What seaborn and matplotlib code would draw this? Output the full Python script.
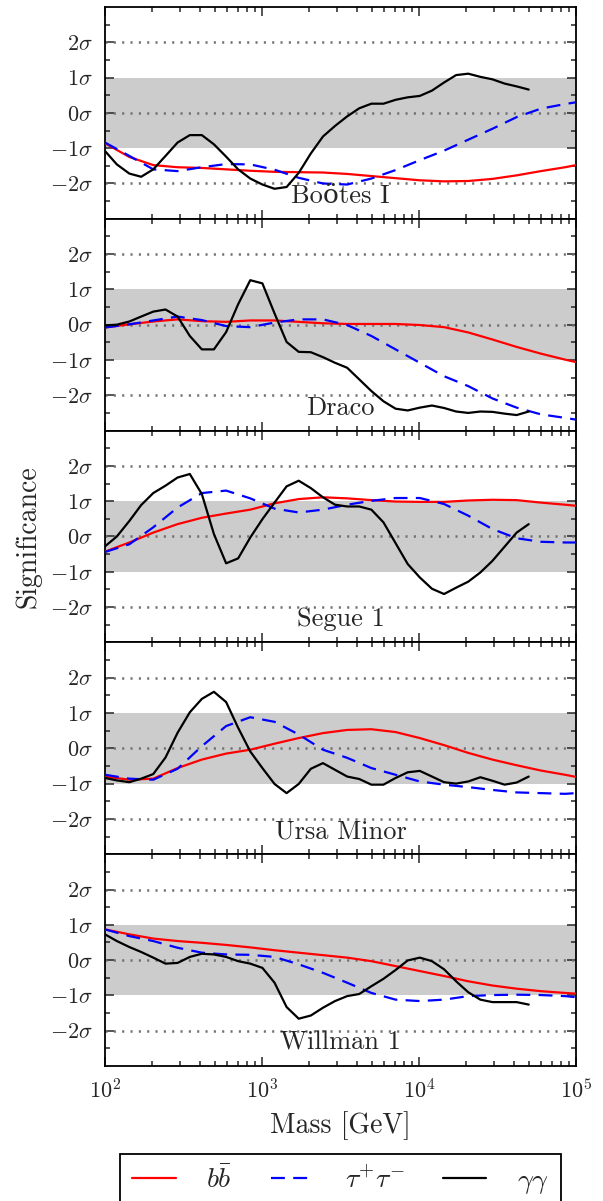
import matplotlib
matplotlib.use('Agg')
import pandas as pd
import matplotlib.pyplot as plt
import seaborn as sns
from matplotlib.ticker import FixedLocator, LogLocator, NullFormatter

# mass points of the gamma-gamma scan (GeV)
mass_gg = [100, 119, 143, 170, 203, 243, 290, 347, 414, 494, 591, 705, 842,
           1006, 1202, 1435, 1714, 2047, 2445, 2920, 3487, 4165, 4974, 5941,
           7096, 8475, 10120, 12090, 14440, 17240, 20590, 24590, 29370,
           35080, 41880, 50000]
# mass points used for the smooth bb / tau tau curves (GeV)
mass_smooth = [100, 143, 203, 290, 414, 591, 842, 1202, 1714, 2445, 3487,
               4974, 7096, 10120, 14440, 20590, 29370, 41880, 59740, 85220,
               100000]

dwarfs = ['Boötes I', 'Draco', 'Segue 1', 'Ursa Minor', 'Willman 1']

# Bootes I
bb_boo = [-0.86, -1.25, -1.48, -1.54, -1.56, -1.60, -1.64, -1.67, -1.68, -1.69, -1.73,
          -1.79, -1.85, -1.91, -1.94, -1.93, -1.87, -1.77, -1.65, -1.54, -1.48]
tt_boo = [-0.84, -1.22, -1.60, -1.65, -1.54, -1.45, -1.46, -1.61, -1.84, -2.00, -2.03,
          -1.86, -1.62, -1.34, -1.07, -0.76, -0.45, -0.12, 0.12, 0.25, 0.30]
gg_boo = [-1.08, -1.46, -1.72, -1.81, -1.60, -1.22, -0.84, -0.63, -0.63, -0.89, -1.24,
          -1.60, -1.86, -2.03, -2.15, -2.10, -1.70, -1.15, -0.67, -0.37, -0.10, 0.13,
          0.26, 0.26, 0.37, 0.44, 0.48, 0.63, 0.86, 1.07, 1.11, 1.02, 0.95, 0.83, 0.75, 0.66]

# Draco
bb_dra = [-0.08, 0.01, 0.09, 0.15, 0.10, 0.08, 0.12, 0.12, 0.08, 0.04, 0.02,
          0.02, 0.02, -0.01, -0.07, -0.22, -0.42, -0.63, -0.82, -0.99, -1.06]
tt_dra = [-0.08, 0.01, 0.12, 0.23, 0.13, -0.04, -0.07, 0.06, 0.15, 0.15, -0.01,
          -0.32, -0.70, -1.08, -1.46, -1.74, -2.09, -2.35, -2.54, -2.64, -2.69]
gg_dra = [-0.02, 0.00, 0.09, 0.23, 0.37, 0.43, 0.23, -0.32, -0.70, -0.70, -0.21,
          0.58, 1.26, 1.17, 0.32, -0.49, -0.77, -0.78, -0.92, -1.08, -1.22, -1.55,
          -1.88, -2.17, -2.38, -2.43, -2.35, -2.29, -2.36, -2.46, -2.50, -2.46, -2.47,
          -2.52, -2.56, -2.46]

# Segue 1
bb_seg = [-0.43, -0.17, 0.11, 0.35, 0.53, 0.65, 0.76, 0.94, 1.06, 1.11, 1.08,
          1.03, 0.99, 0.98, 0.98, 1.02, 1.04, 1.03, 0.96, 0.90, 0.87]
tt_seg = [-0.44, -0.22, 0.26, 0.82, 1.23, 1.30, 1.08, 0.79, 0.68, 0.76, 0.90,
          1.01, 1.09, 1.09, 0.92, 0.59, 0.21, -0.05, -0.15, -0.17, -0.17]
gg_seg = [-0.28, 0.00, 0.44, 0.89, 1.23, 1.44, 1.67, 1.77, 1.20, 0.07, -0.76,
          -0.62, -0.03, 0.49, 0.96, 1.42, 1.58, 1.37, 1.11, 0.90, 0.85, 0.85, 0.76,
          0.40, -0.19, -0.78, -1.16, -1.48, -1.63, -1.45, -1.28, -1.02, -0.69, -0.29,
          0.11, 0.35]

# Ursa Minor
bb_umi = [-0.80, -0.89, -0.86, -0.56, -0.32, -0.15, -0.04, 0.13, 0.29, 0.43, 0.52,
          0.54, 0.46, 0.29, 0.09, -0.13, -0.32, -0.48, -0.63, -0.75, -0.81]
tt_umi = [-0.75, -0.86, -0.89, -0.58, 0.06, 0.63, 0.88, 0.75, 0.39, -0.04, -0.27,
          -0.56, -0.75, -0.94, -1.03, -1.10, -1.18, -1.25, -1.27, -1.29, -1.27]
gg_umi = [-0.84, -0.91, -0.96, -0.86, -0.73, -0.26, 0.44, 1.02, 1.40, 1.60, 1.31,
          0.58, -0.09, -0.56, -1.01, -1.27, -1.01, -0.58, -0.42, -0.61, -0.80, -0.87,
          -1.03, -1.03, -0.84, -0.68, -0.64, -0.80, -0.96, -1.00, -0.94, -0.82, -0.92,
          -1.03, -0.97, -0.80]

# Willman 1
bb_wil = [0.87, 0.73, 0.61, 0.54, 0.49, 0.43, 0.36, 0.28, 0.21, 0.14, 0.07,
          -0.03, -0.17, -0.31, -0.45, -0.60, -0.72, -0.81, -0.88, -0.93, -0.95]
tt_wil = [0.87, 0.68, 0.54, 0.35, 0.21, 0.16, 0.15, 0.09, -0.12, -0.36, -0.64,
          -0.93, -1.12, -1.16, -1.12, -1.02, -0.99, -0.98, -0.99, -1.02, -1.05]
gg_wil = [0.73, 0.54, 0.37, 0.23, 0.07, -0.10, -0.08, 0.09, 0.18, 0.16, 0.09,
          -0.03, -0.10, -0.22, -0.64, -1.33, -1.66, -1.57, -1.35, -1.16, -1.02, -0.96,
          -0.74, -0.53, -0.28, -0.01, 0.07, -0.03, -0.26, -0.60, -0.91, -1.12, -1.19,
          -1.19, -1.19, -1.26]

bb_all = [bb_boo, bb_dra, bb_seg, bb_umi, bb_wil]
tt_all = [tt_boo, tt_dra, tt_seg, tt_umi, tt_wil]
gg_all = [gg_boo, gg_dra, gg_seg, gg_umi, gg_wil]

sns.set_style('ticks')
plt.rcParams['font.family'] = ['cmr10', 'DejaVu Serif']
plt.rcParams['mathtext.fontset'] = 'cm'
plt.rcParams['axes.formatter.use_mathtext'] = True
plt.rcParams['axes.unicode_minus'] = False
plt.rcParams['lines.scale_dashes'] = False
plt.rcParams['axes.linewidth'] = 1.3
plt.rcParams['axes.edgecolor'] = 'black'

fig, axes = plt.subplots(5, 1, sharex=True, figsize=(6.03, 12.01), dpi=100)
fig.subplots_adjust(left=0.1741, right=0.9552, top=0.9942, bottom=0.1124, hspace=0)

for i, ax in enumerate(axes):
    df_s = pd.DataFrame({'mass': mass_smooth, 'bb': bb_all[i], 'tt': tt_all[i]})
    df_g = pd.DataFrame({'mass': mass_gg, 'gg': gg_all[i]})

    # 1 sigma band and dotted reference lines
    ax.axhspan(-1, 1, color='#cccccc', lw=0, zorder=0)
    for yv in [-2, 0, 2]:
        ax.axhline(yv, color='#707070', lw=1.8, ls=(0, (1.5, 4.5)), zorder=1)

    sns.lineplot(data=df_s, x='mass', y='bb', ax=ax, color='red', lw=1.6,
                 label=r'$b\bar{b}$', legend=False, zorder=3)
    sns.lineplot(data=df_s, x='mass', y='tt', ax=ax, color='blue', lw=1.6,
                 linestyle=(0, (10, 6)), label=r'$\tau^{+}\tau^{-}$', legend=False, zorder=3)
    sns.lineplot(data=df_g, x='mass', y='gg', ax=ax, color='black', lw=1.6,
                 label=r'$\gamma\gamma$', legend=False, zorder=4)

    ax.set_xscale('log')
    ax.set_xlim(1e2, 1e5)
    ax.set_ylim(-3, 3)
    ax.yaxis.set_major_locator(FixedLocator([-2, -1, 0, 1, 2]))
    ax.yaxis.set_minor_locator(FixedLocator([-2.5, -1.5, -0.5, 0.5, 1.5, 2.5]))
    ax.set_yticklabels([r'$-2\sigma$', r'$-1\sigma$', r'$0\sigma$', r'$1\sigma$', r'$2\sigma$'])
    ax.xaxis.set_minor_locator(LogLocator(base=10, subs=range(2, 10)))
    ax.xaxis.set_minor_formatter(NullFormatter())
    ax.tick_params(which='both', direction='in', top=True, right=True,
                   labelsize=16, width=1.1, pad=9)
    ax.tick_params(which='major', length=6.5)
    ax.tick_params(which='minor', length=3.5)
    ax.set_xlabel('')
    ax.set_ylabel('')
    for sp in ax.spines.values():
        sp.set_visible(True)
        sp.set_linewidth(1.3)
        sp.set_color('black')

    ax.text(0.5, -2.35, dwarfs[i], transform=ax.get_yaxis_transform(),
            ha='center', va='center', fontsize=19)

axes[2].set_ylabel('Significance', fontsize=20, labelpad=6)
axes[-1].set_xlabel('Mass [GeV]', fontsize=20, labelpad=6)

handles, labels = axes[-1].get_legend_handles_labels()
leg = fig.legend(handles, labels, loc='upper center', ncol=3,
                 bbox_to_anchor=(0.5647, 1 - 1154 / 1201), fontsize=20,
                 frameon=True, fancybox=False, framealpha=1, edgecolor='black',
                 handlelength=1.55, handletextpad=1.1, columnspacing=1.4,
                 borderpad=0.45, borderaxespad=0)
leg.get_frame().set_linewidth(1.3)

fig.savefig('out.png', dpi=100)
